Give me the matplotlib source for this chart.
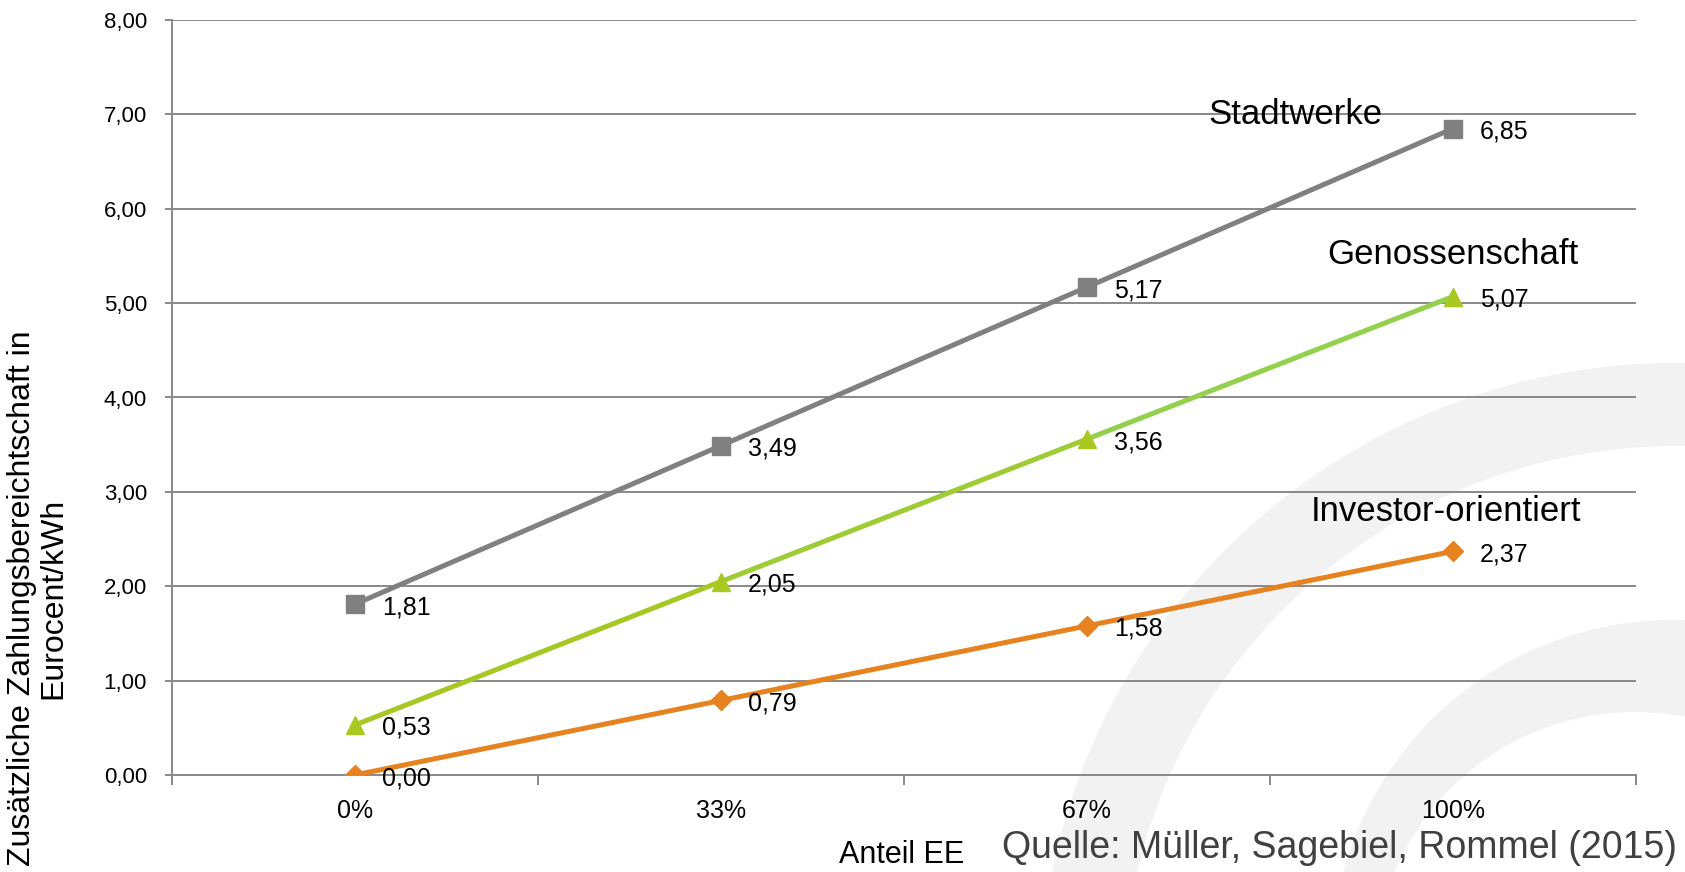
import numpy as np
import matplotlib
matplotlib.use("Agg")
import matplotlib.pyplot as plt
from matplotlib.patches import Circle
from matplotlib.transforms import IdentityTransform
from matplotlib.ticker import FixedLocator, FuncFormatter

categories = ["0%", "33%", "67%", "100%"]
stadtwerke = [1.81, 3.49, 5.17, 6.85]
genossenschaft = [0.53, 2.05, 3.56, 5.07]
investor = [0.00, 0.79, 1.58, 2.37]
series_names = ["Stadtwerke", "Genossenschaft", "Investor-orientiert"]

plt.rcParams['font.family'] = ["Liberation Sans", "DejaVu Sans"]

W, H = 1685, 872
fig = plt.figure(figsize=(W / 100, H / 100), dpi=100)
ax = fig.add_axes([172 / W, 1 - 775 / H, 1464 / W, 755 / H])
ax.set_facecolor("none")

# decorative background arcs, pixel coords (x, y from top, r)
bg_circles = [(1676, 1000, 637, "#f2f2f2"), (1676, 1000, 554, "white"),
              (1672, 960, 340, "#f2f2f2"), (1635, 973, 261, "white")]
for i, (cx, cy, r, c) in enumerate(bg_circles):
    fig.add_artist(Circle((cx, H - cy), r, color=c, lw=0,
                          transform=IdentityTransform(), zorder=-10 + i))

x = np.arange(len(categories))
ax.plot(x, stadtwerke, color="#808080", lw=3.6, marker="s", ms=13.5, zorder=3)

gcols = ["#a6c823", "#9ecc34", "#93d04c"]
for i in range(len(x) - 1):
    ax.plot(x[i:i + 2], genossenschaft[i:i + 2], color=gcols[i], lw=3.6,
            solid_capstyle="butt", zorder=3)
ax.plot(x, genossenschaft, ls="none", marker="^", ms=13.5, color="#a9c922", zorder=4)

ax.plot(x, investor, color="#e6821f", lw=3.6, marker="D", ms=10.5, zorder=3)

for ys in (stadtwerke, genossenschaft, investor):
    for xi, yi in zip(x, ys):
        ax.annotate(f"{yi:.2f}".replace(".", ","), (xi, yi), xytext=(27, -10),
                    textcoords="offset pixels", ha="left", va="baseline",
                    fontsize=18, color="black", zorder=5)

name_pos = [(2.57, 7.0), (3.0, 5.51), (2.98, 2.79)]
for name, (px, py) in zip(series_names, name_pos):
    ax.text(px, py, name, ha="center", va="center", fontsize=25, zorder=5)

ax.set_xlim(-0.5, 3.5)
ax.set_ylim(0, 8)
ax.set_yticks(np.arange(0, 9, 1))
ax.yaxis.set_major_formatter(FuncFormatter(lambda v, p: f"{v:.2f}".replace(".", ",")))
ax.grid(axis="y", color="#898989", lw=1.4, zorder=0)
ax.set_axisbelow(True)

ax.set_xticks(x)
ax.set_xticklabels(categories, fontsize=18)
ax.xaxis.set_minor_locator(FixedLocator(np.arange(-0.5, 4, 1)))
ax.tick_params(axis="x", which="major", length=0, pad=17)
ax.tick_params(axis="x", which="minor", length=7, width=1.4, color="#898989")
ax.tick_params(axis="y", length=5, width=1.4, color="#898989", labelsize=16, pad=13)

for s in ("top", "right"):
    ax.spines[s].set_visible(False)
for s in ("left", "bottom"):
    ax.spines[s].set_color("#898989")
    ax.spines[s].set_linewidth(1.4)

fig.text(38 / W, 1 - 598 / H,
         "Zusätzliche Zahlungsbereichtschaft in\nEurocent/kWh",
         rotation=90, ha="center", va="center", multialignment="center",
         fontsize=23, linespacing=1.05)
fig.text(902 / W, 1 - 863 / H, "Anteil EE", ha="center", va="baseline",
         fontsize=22)
fig.text(1002 / W, 1 - 858 / H, "Quelle: Müller, Sagebiel, Rommel (2015)",
         ha="left", va="baseline", fontsize=27, color="#404040")

fig.savefig("out.png", dpi=100)
